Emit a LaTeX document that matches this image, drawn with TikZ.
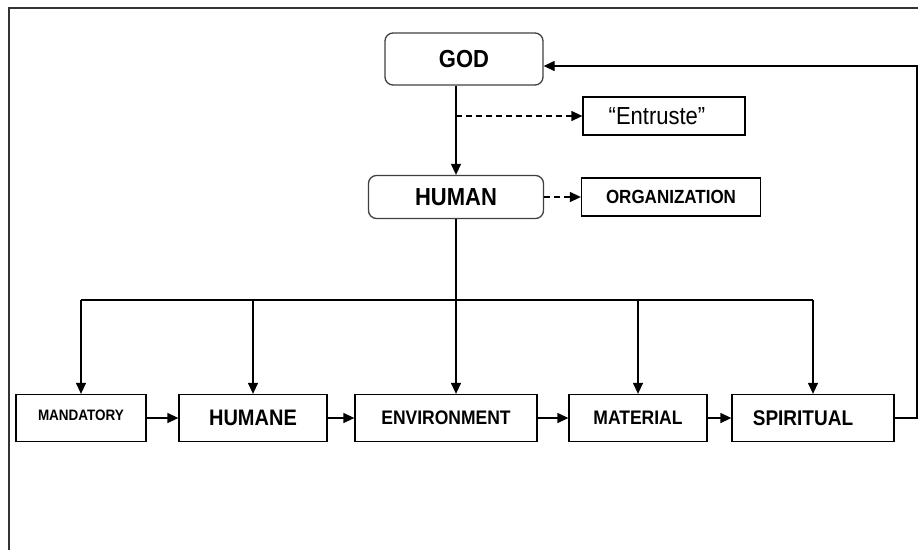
\documentclass[tikz,border=0pt]{standalone}
\usepackage{fontspec}
\setmainfont{Liberation Sans}
\usetikzlibrary{arrows.meta}

\tikzset{
  box/.style={draw=black, line width=1.3pt, inner sep=0, align=center},
  rbox/.style={box, draw=black!75, rounded corners=8pt},
  arr/.style={line width=1.3pt, -{Triangle[length=11pt,width=10pt]}},
  dasharr/.style={arr, dash pattern=on 6pt off 4pt},
  link/.style={line width=1.3pt}
}
\newcommand{\fs}[2]{\scalebox{1}[1.12]{\fontsize{#1}{#1}\selectfont #2}}

\begin{document}
\begin{tikzpicture}[x=1pt, y=-1pt]
\useasboundingbox (0,0) rectangle (918,550);
% frame
\draw[line width=1.4pt, black!80] (918,8) -- (9,8) -- (9,550);

% top
\node[rbox, minimum width=158, minimum height=52] (god) at (464,59) {\fs{22}{\bfseries GOD}};
\node[box, minimum width=162, minimum height=38] (entruste) at (664,116) {\hspace{-14pt}\fs{22}{“Entruste”}};
\node[rbox, minimum width=175, minimum height=43] (human) at (456,197) {\fs{22}{\bfseries HUMAN}};
\node[box, minimum width=179, minimum height=38] (org) at (671,197) {\fs{17}{\bfseries ORGANIZATION}};

% bottom row
\node[box, minimum width=130, minimum height=47] (mand) at (81,418) {\raisebox{6pt}{\fs{13.5}{\bfseries MANDATORY}}};
\node[box, minimum width=148, minimum height=47] (humane) at (253,418) {\fs{20}{\bfseries HUMANE}};
\node[box, minimum width=182, minimum height=47] (env) at (446,418) {\fs{17.5}{\bfseries ENVIRONMENT}};
\node[box, minimum width=138, minimum height=47] (mat) at (638,418) {\fs{17.5}{\bfseries MATERIAL}};
\node[box, minimum width=162, minimum height=47] (spir) at (813,418) {\hspace{-20pt}\fs{19}{\bfseries SPIRITUAL}};

\coordinate (bus) at (456,300);
\coordinate (ret) at (917,418);

% links
\draw[arr] (god.south -| human.north) -- (human.north);
\draw[dasharr] (human.north |- entruste.west) -- (entruste.west);
\draw[dasharr] (human.east) -- (org.west);
\draw[link] (human.south) -- (bus);
\draw[link] (mand.north |- bus) -- (spir.north |- bus);
\draw[arr] (mand.north |- bus) -- (mand.north);
\draw[arr] (humane.north |- bus) -- (humane.north);
\draw[arr] (bus) -- (bus |- env.north);
\draw[arr] (mat.north |- bus) -- (mat.north);
\draw[arr] (spir.north |- bus) -- (spir.north);

\draw[arr] (mand.east) -- (humane.west);
\draw[arr] (humane.east) -- (env.west);
\draw[arr] (env.east) -- (mat.west);
\draw[arr] (mat.east) -- (spir.west);

\draw[arr] (spir.east) -- (ret) |- ([yshift=-7pt]god.east);
\end{tikzpicture}
\end{document}
